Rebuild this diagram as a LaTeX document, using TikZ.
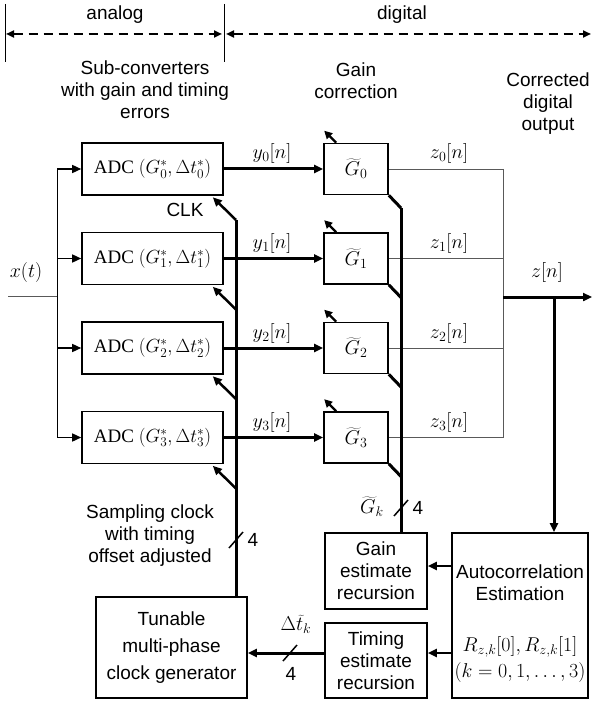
\RequirePackage{fix-cm}
\documentclass[tikz,border=0pt]{standalone}
\usepackage{fontspec}
\setmainfont{Liberation Serif}
\setsansfont{Liberation Sans}
\usetikzlibrary{arrows.meta,calc}
\begin{document}
\begin{tikzpicture}[x=1pt,y=-1pt,
  lbl/.style={font=\sffamily\fontsize{19}{22}\selectfont, inner sep=0pt, align=center},
  mth/.style={font=\fontsize{20}{22}\selectfont, inner sep=0pt},
  blk/.style={draw, line width=1.6pt, inner sep=0pt, align=center, font=\sffamily\fontsize{19}{22}\selectfont},
  adc/.style={blk, minimum width=141pt, minimum height=52pt, font=\rmfamily\fontsize{19}{22}\selectfont},
  gbx/.style={blk, minimum width=64pt, minimum height=51pt, font=\fontsize{20}{22}\selectfont},
  arr/.style={-{Triangle[length=9pt,width=8pt]}},
  sarr/.style={-{Triangle[length=8pt,width=8pt]}},
  bus/.style={line width=3pt},
  zline/.style={line width=0.9pt, black!65},
  hdr/.style={line width=2pt, dash pattern=on 9pt off 6pt, {Triangle[length=8pt,width=7pt]}-{Triangle[length=8pt,width=7pt]}},
  slash/.style={line width=1.5pt}
]
\useasboundingbox (0,0) rectangle (592,703);

% header
\coordinate (h0) at (5.5,4); \coordinate (h0b) at (5.5,62);
\coordinate (h1) at (224,4); \coordinate (h1b) at (224,62);
\draw[line width=0.8pt] (h0) -- (h0b);
\draw[line width=0.8pt] (h1) -- (h1b);
\coordinate (ha) at (6,34); \coordinate (hm1) at (222,34);
\coordinate (hm2) at (226,34); \coordinate (hr) at (591,34);
\draw[hdr] (ha) -- (hm1);
\draw[hdr] (hm2) -- (hr);
\node[lbl] (tan) at (115,15) {analog};
\node[lbl] (tdg) at (402,15) {digital};

% top labels
\node[lbl] (tsub) at (145,90) {Sub-converters\\with gain and timing\\errors};
\node[lbl] (tgc) at (356,81) {Gain\\correction};
\node[lbl] (tcd) at (548,104) {Corrected\\digital\\output};

% input
\node[mth] (xt) at (26,272) {$x(t)$};
\coordinate (xin) at (8,296); \coordinate (xj) at (57,296);
\draw[zline] (xin) -- (xj);
\coordinate (xb0) at (57,169); \coordinate (xb3) at (57,437.5);
\draw[line width=1pt] (xb0) -- (xb3);

% rows
\foreach \i/\y in {0/169,1/258.5,2/348,3/437.5} {
  \node[adc] (a\i) at (152.5,\y) {ADC $\bigl(G_{\i}^{*},\Delta t_{\i}^{*}\bigr)$};
  \node[gbx] (g\i) at (356,\y) {$\widetilde{G}_{\i}$};
  \coordinate (xa\i) at (57,\y);
  \draw[line width=1.5pt, arr] (xa\i) -- (a\i.west);
  \draw[bus, arr] (a\i.east) -- (g\i.west);
  \node[mth] (ly\i) at (272,\y-15) {$y_{\i}\bigl[n\bigr]$};
  % clock arrows
  \coordinate (ck\i) at (236,\y+51);
  \draw[line width=2.5pt, arr] (ck\i) -- ($(a\i.south east)+(-11,1.5)$);
  % gain diagonals
  \coordinate (gd\i) at (401,\y+39);
  \draw[bus] (g\i.south east) -- (gd\i);
  % small adjust arrows
  \draw[line width=2.2pt, sarr] ($(g\i.north west)+(13,0)$) -- ($(g\i.north west)+(1,-12)$);
  % z lines
  \coordinate (zj\i) at (503,\y);
  \draw[zline] (g\i.east) -- (zj\i);
  \node[mth] (lz\i) at (449,\y-15) {$z_{\i}\bigl[n\bigr]$};
}
\node[lbl] (tclk) at (185,210) {CLK};
\draw[zline] (zj0) -- (zj3);

% output
\coordinate (zo) at (503,297); \coordinate (zend) at (592,297);
\draw[bus, arr] (zo) -- (zend);
\node[mth] (lz) at (547,272) {$z\bigl[n\bigr]$};

% lower blocks
\node[blk, minimum width=151pt, minimum height=101pt, font=\sffamily\fontsize{19}{27}\selectfont] (tun) at (171.5,647.5) {Tunable\\multi-phase\\clock generator};
\node[blk, minimum width=102pt, minimum height=76pt] (gest) at (376,571) {Gain\\estimate\\recursion};
\node[blk, minimum width=102pt, minimum height=75pt] (tim) at (376,660.5) {Timing\\estimate\\recursion};
\node[blk, minimum width=136pt, minimum height=165pt] (ac) at (520,615.5) {};
\node[lbl] (ac1) at (520,583) {Autocorrelation\\Estimation};
\node[mth] (ac2) at (520,647) {$R_{z,k}\bigl[0\bigr],R_{z,k}\bigl[1\bigr]$};
\node[mth] (ac3) at (520,672) {$\bigl(k=0,1,\ldots,3\bigr)$};

% z to autocorrelation
\coordinate (zt) at (554,297);
\draw[bus, arr] (zt) -- (zt |- ac.north);

% clock bus
\coordinate (cbt) at (236,220);
\draw[bus] (cbt) -- (cbt |- tun.north);
\coordinate (s1) at (236,540);
\draw[slash] ([shift={(-7,8)}]s1) -- ([shift={(7,-8)}]s1);
\node[lbl] (n4a) at (253,540) {4};
\node[lbl] (tsc) at (150,536) {Sampling clock\\with timing\\offset adjusted};

% gain bus
\draw[bus] (gd0) -- (gd0 |- gest.north);
\coordinate (s2) at (401,508);
\draw[slash] ([shift={(-7,8)}]s2) -- ([shift={(7,-8)}]s2);
\node[lbl] (n4b) at (418,508) {4};
\node[mth] (lgk) at (372,507) {$\widetilde{G}_k$};

% autocorrelation to estimators
\draw[line width=2pt, arr] (ac.west |- 0,566) -- (gest.east |- 0,566);
\draw[line width=2pt, arr] (ac.west |- 0,653) -- (tim.east |- 0,653);

% timing to clock generator
\draw[bus, arr] (tim.west |- 0,653) -- (tun.east |- 0,653);
\coordinate (s3) at (290,653);
\draw[slash] ([shift={(-7,8)}]s3) -- ([shift={(7,-8)}]s3);
\node[lbl] (n4c) at (291,674) {4};
\node[mth] (ldt) at (296,624) {$\Delta\widetilde{t}_k$};
\end{tikzpicture}
\end{document}
